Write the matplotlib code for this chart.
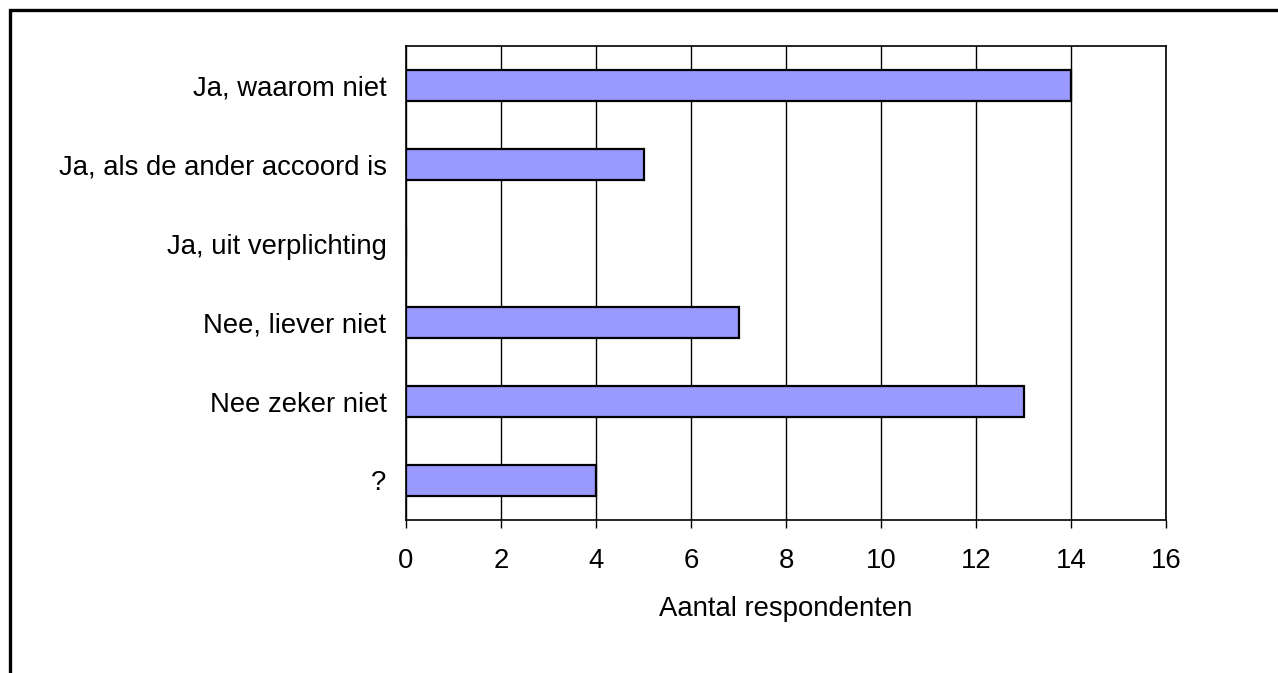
import matplotlib
matplotlib.use("Agg")
import matplotlib.pyplot as plt
from matplotlib.patches import Rectangle

# antwoorden, van boven naar beneden
categories = ["Ja, waarom niet", "Ja, als de ander accoord is", "Ja, uit verplichting",
              "Nee, liever niet", "Nee zeker niet", "?"]
counts = [14, 5, 0, 7, 13, 4]
xticks = [0, 2, 4, 6, 8, 10, 12, 14, 16]

plt.rcParams['font.family'] = ['Liberation Sans', 'DejaVu Sans']
fs = 19.8

fig = plt.figure(figsize=(12.78, 6.73), dpi=100)
ax = fig.add_axes([406 / 1278, 1 - 520 / 673, 760 / 1278, 474 / 673])

ypos = list(range(len(categories)))
ax.barh(ypos, counts, height=0.4, color='#9999ff', edgecolor='black', linewidth=1.6, zorder=3)

ax.set_xlim(0, 16)
ax.set_ylim(len(categories) - 0.5, -0.5)
ax.set_xticks(xticks)
ax.set_yticks(ypos)
ax.set_yticklabels(categories)
ax.tick_params(axis='y', length=0, pad=14, labelsize=fs)
ax.tick_params(axis='x', length=6, width=1, direction='out', pad=14, labelsize=fs)
ax.xaxis.grid(True, color='black', linewidth=1)
ax.set_axisbelow(True)
ax.set_xlabel("Aantal respondenten", fontsize=fs, labelpad=16)
for s in ax.spines.values():
    s.set_linewidth(1.2)
    s.set_color('black')

# kader rond de grafiek (rechts en onder vallen buiten beeld)
fig.patches.append(Rectangle((10 / 1278, -0.1), 1.2, 1.1 - 10 / 673,
                             transform=fig.transFigure, fill=False,
                             edgecolor='black', linewidth=2.4))

fig.savefig("out.png", dpi=100, facecolor='white')
